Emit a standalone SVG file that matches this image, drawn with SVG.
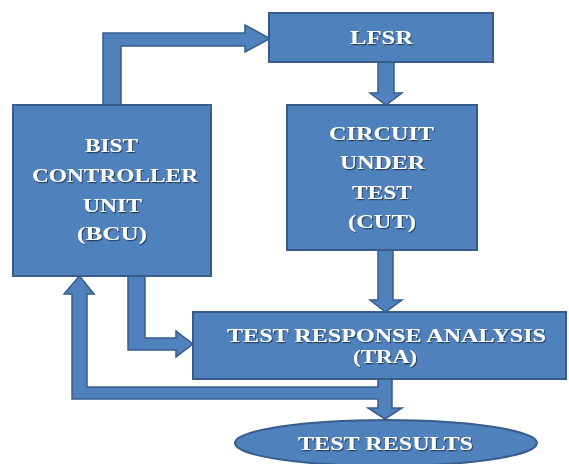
<svg xmlns="http://www.w3.org/2000/svg" width="569" height="464" viewBox="0 0 569 464">
<style>
.box{fill:#4F81BD;stroke:#385D8A;stroke-width:2}
.arr{fill:#4F81BD;stroke:#385D8A;stroke-width:1.5;stroke-linejoin:miter}
text{font-family:"Liberation Serif","Times New Roman",serif;font-weight:bold;font-size:19px;fill:#ffffff;filter:url(#sh)}
</style>
<defs>
<filter id="sh" x="-10%" y="-30%" width="120%" height="160%">
<feDropShadow dx="1" dy="1.2" stdDeviation="0.6" flood-color="#1a2a40" flood-opacity="0.8"/>
</filter>
</defs>
<rect width="569" height="464" fill="#ffffff"/>
<g id="connectors">
<polygon class="arr" points="103,105 103,33 245,33 245,25 270,38.5 245,52 245,46 121,46 121,105"/>
<polygon class="arr" points="378,62 394,62 394,93 402,93 386,105 370,93 378,93"/>
<polygon class="arr" points="378,250 393,250 393,300 402,300 385.5,312 370,300 378,300"/>
<polygon class="arr" points="128,276 145,276 145,338 176,338 176,331 193,344 176,357 176,350 128,350"/>
<polygon class="arr" points="392,379 392,408 402,408 385,419 368,408 378,408 378,399 72,399 72,294 64,294 79.5,276 94,294 87,294 87,387 378,387 378,379"/>
</g>
<g id="lfsr">
<rect class="box" x="269" y="13" width="224" height="49"/>
<text x="381.5" y="44" text-anchor="middle" textLength="63" lengthAdjust="spacingAndGlyphs">LFSR</text>
</g>
<g id="bcu">
<rect class="box" x="13" y="105" width="198" height="171"/>
<text x="111.5" y="152" text-anchor="middle" textLength="53" lengthAdjust="spacingAndGlyphs">BIST</text>
<text x="115" y="182" text-anchor="middle" textLength="166" lengthAdjust="spacingAndGlyphs">CONTROLLER</text>
<text x="112.5" y="212" text-anchor="middle" textLength="59" lengthAdjust="spacingAndGlyphs">UNIT</text>
<text x="112" y="240" text-anchor="middle" textLength="70" lengthAdjust="spacingAndGlyphs">(BCU)</text>
</g>
<g id="cut">
<rect class="box" x="287" y="105" width="190" height="145"/>
<text x="381.5" y="140" text-anchor="middle" textLength="105" lengthAdjust="spacingAndGlyphs">CIRCUIT</text>
<text x="382.5" y="169" text-anchor="middle" textLength="85" lengthAdjust="spacingAndGlyphs">UNDER</text>
<text x="382" y="199" text-anchor="middle" textLength="60" lengthAdjust="spacingAndGlyphs">TEST</text>
<text x="382" y="228" text-anchor="middle" textLength="68" lengthAdjust="spacingAndGlyphs">(CUT)</text>
</g>
<g id="tra">
<rect class="box" x="193" y="312" width="373" height="67"/>
<text x="386.5" y="342" text-anchor="middle" textLength="319" lengthAdjust="spacingAndGlyphs">TEST RESPONSE ANALYSIS</text>
<text x="385" y="363" text-anchor="middle" textLength="64" lengthAdjust="spacingAndGlyphs">(TRA)</text>
</g>
<g id="results">
<ellipse class="box" cx="386" cy="443" rx="151" ry="23"/>
<text x="385.5" y="450" text-anchor="middle" textLength="175" lengthAdjust="spacingAndGlyphs">TEST RESULTS</text>
</g>
</svg>
